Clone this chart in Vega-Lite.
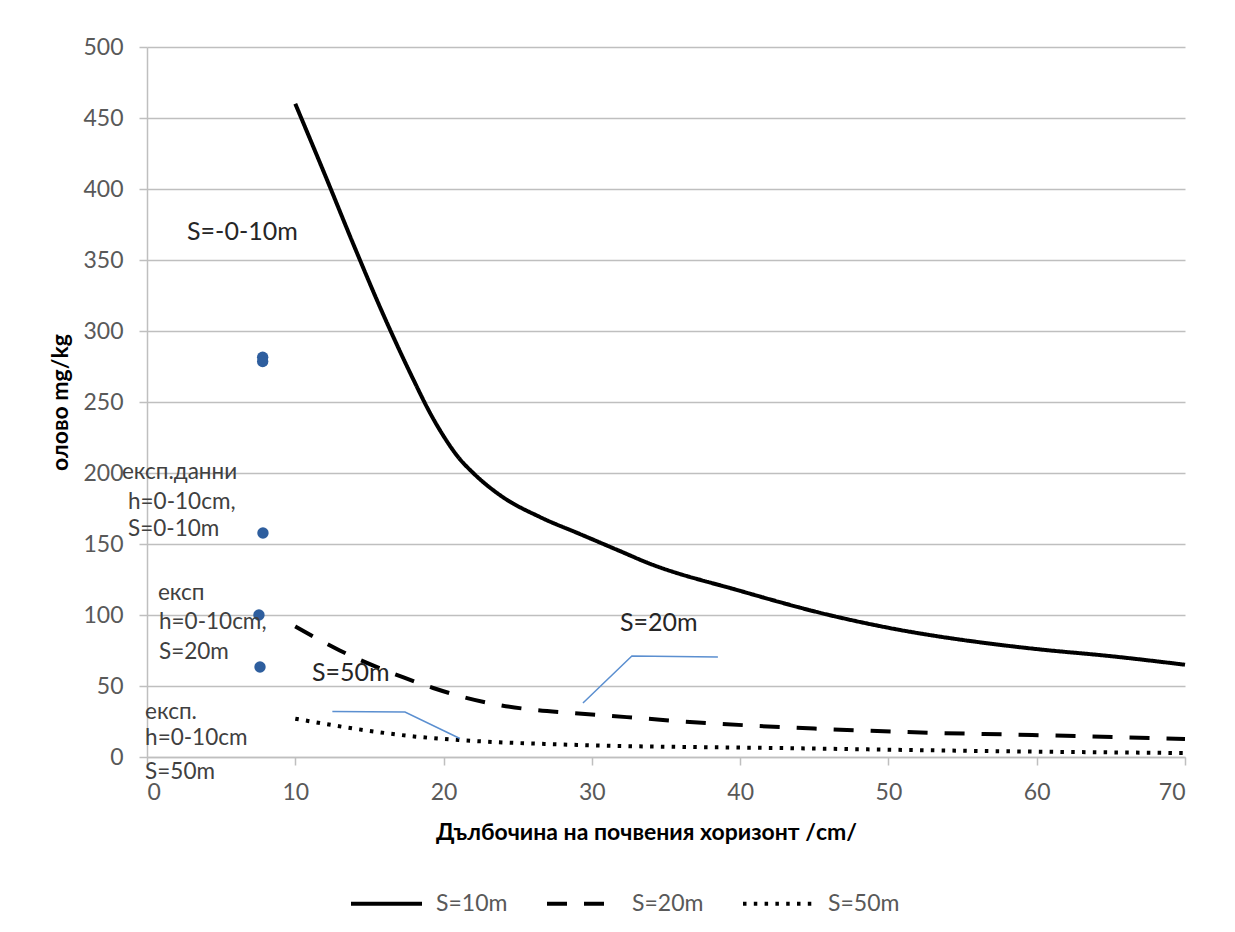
{
  "$schema": "https://vega.github.io/schema/vega-lite/v6.json",
  "width": 1038,
  "height": 710,
  "autosize": {"type": "none"},
  "padding": {"left": 147, "top": 47, "right": 50, "bottom": 175},
  "background": "white",
  "config": {
    "view": {"stroke": null},
    "font": "Lato",
    "axis": {"labelFont": "Lato", "titleFont": "Lato"},
    "legend": {"labelFont": "Lato"}
  },
  "datasets": {
    "curves": [
      {"series": "S=10m", "depth": 10, "lead": 460},
      {"series": "S=10m", "depth": 12, "lead": 410},
      {"series": "S=10m", "depth": 14, "lead": 359},
      {"series": "S=10m", "depth": 16, "lead": 310},
      {"series": "S=10m", "depth": 17, "lead": 287},
      {"series": "S=10m", "depth": 18, "lead": 265},
      {"series": "S=10m", "depth": 19, "lead": 244},
      {"series": "S=10m", "depth": 20, "lead": 226},
      {"series": "S=10m", "depth": 21, "lead": 211},
      {"series": "S=10m", "depth": 22, "lead": 200},
      {"series": "S=10m", "depth": 24, "lead": 183},
      {"series": "S=10m", "depth": 26.5, "lead": 169},
      {"series": "S=10m", "depth": 29.2, "lead": 157},
      {"series": "S=10m", "depth": 31.9, "lead": 145},
      {"series": "S=10m", "depth": 33.7, "lead": 137},
      {"series": "S=10m", "depth": 40, "lead": 117},
      {"series": "S=10m", "depth": 46, "lead": 100},
      {"series": "S=10m", "depth": 50, "lead": 91},
      {"series": "S=10m", "depth": 57.5, "lead": 79},
      {"series": "S=10m", "depth": 60, "lead": 76},
      {"series": "S=10m", "depth": 65, "lead": 71},
      {"series": "S=10m", "depth": 70, "lead": 65},
      {"series": "S=20m", "depth": 10, "lead": 92},
      {"series": "S=20m", "depth": 13, "lead": 75},
      {"series": "S=20m", "depth": 17.3, "lead": 56},
      {"series": "S=20m", "depth": 19.3, "lead": 48.6},
      {"series": "S=20m", "depth": 21.6, "lead": 41.5},
      {"series": "S=20m", "depth": 23.8, "lead": 36.5},
      {"series": "S=20m", "depth": 26.3, "lead": 33},
      {"series": "S=20m", "depth": 28.7, "lead": 31},
      {"series": "S=20m", "depth": 31.2, "lead": 29},
      {"series": "S=20m", "depth": 33.7, "lead": 27},
      {"series": "S=20m", "depth": 36.1, "lead": 25},
      {"series": "S=20m", "depth": 38.4, "lead": 23.5},
      {"series": "S=20m", "depth": 45, "lead": 20},
      {"series": "S=20m", "depth": 53, "lead": 17},
      {"series": "S=20m", "depth": 59.7, "lead": 15.5},
      {"series": "S=20m", "depth": 70, "lead": 12.7},
      {"series": "S=50m", "depth": 10, "lead": 27},
      {"series": "S=50m", "depth": 14.6, "lead": 19},
      {"series": "S=50m", "depth": 18, "lead": 14.5},
      {"series": "S=50m", "depth": 21, "lead": 12},
      {"series": "S=50m", "depth": 29, "lead": 8.5},
      {"series": "S=50m", "depth": 42.7, "lead": 6.3},
      {"series": "S=50m", "depth": 59.7, "lead": 3.8},
      {"series": "S=50m", "depth": 70, "lead": 2.8}
    ],
    "points": [
      {"depth": 7.8, "lead": 281.5},
      {"depth": 7.8, "lead": 278.5},
      {"depth": 7.82, "lead": 157.7},
      {"depth": 7.55, "lead": 100},
      {"depth": 7.62, "lead": 63.4}
    ],
    "leaders": [
      {"id": "a", "depth": 12.5, "lead": 32},
      {"id": "a", "depth": 17.4, "lead": 31.7},
      {"id": "a", "depth": 21.1, "lead": 13},
      {"id": "b", "depth": 29.4, "lead": 38},
      {"id": "b", "depth": 32.7, "lead": 71.1},
      {"id": "b", "depth": 38.5, "lead": 70.4}
    ],
    "bigLabels": [
      {"depth": 2.7, "lead": 369.7, "label": "S=-0-10m"},
      {"depth": 31.9, "lead": 94.4, "label": "S=20m"},
      {"depth": 11.13, "lead": 59.2, "label": "S=50m"}
    ],
    "smallLabels": [
      {"depth": -1.69, "lead": 200.7, "label": "експ.данни"},
      {"depth": -1.28, "lead": 179.6, "label": "h=0-10cm,"},
      {"depth": -1.28, "lead": 160.6, "label": "S=0-10m"},
      {"depth": 0.74, "lead": 115.5, "label": "експ"},
      {"depth": 0.81, "lead": 95.1, "label": "h=0-10cm,"},
      {"depth": 0.81, "lead": 73.9, "label": "S=20m"},
      {"depth": -0.13, "lead": 31.7, "label": "експ."},
      {"depth": -0.13, "lead": 13.4, "label": "h=0-10cm"},
      {"depth": -0.13, "lead": -10.6, "label": "S=50m"}
    ]
  },
  "layer": [
    {
      "data": {"name": "curves"},
      "mark": {"type": "line", "interpolate": "monotone", "strokeWidth": 4, "color": "black", "clip": false},
      "encoding": {
        "x": {
          "field": "depth", "type": "quantitative",
          "scale": {"domain": [0, 70], "nice": false},
          "axis": {
            "title": "Дълбочина на почвения хоризонт  /cm/",
            "values": [0, 10, 20, 30, 40, 50, 60, 70],
            "grid": false,
            "domainColor": "#BFBFBF", "domainWidth": 1.5,
            "tickColor": "#BFBFBF", "tickSize": 8, "tickWidth": 1.5,
            "labelFontSize": 23, "labelColor": "#595959", "labelPadding": 16,
            "titleFontSize": 23, "titleFontWeight": "bold", "titleColor": "#000000",
            "titlePadding": 17, "titleX": 499
          }
        },
        "y": {
          "field": "lead", "type": "quantitative",
          "scale": {"domain": [0, 500], "nice": false},
          "axis": {
            "title": "олово mg/kg",
            "values": [0, 50, 100, 150, 200, 250, 300, 350, 400, 450, 500],
            "grid": true, "gridColor": "#BFBFBF", "gridWidth": 1.5,
            "domainColor": "#BFBFBF", "domainWidth": 1.5,
            "tickColor": "#BFBFBF", "tickSize": 8, "tickWidth": 1.5,
            "labelFontSize": 23, "labelColor": "#595959", "labelPadding": 16,
            "titleFontSize": 23, "titleFontWeight": "bold", "titleColor": "#000000",
            "titlePadding": 10
          }
        },
        "strokeDash": {
          "field": "series", "type": "nominal",
          "scale": {"domain": ["S=10m", "S=20m", "S=50m"], "range": [[1, 0], [20, 17], [3.5, 7.3]]},
          "legend": {
            "title": null,
            "orient": "none",
            "direction": "horizontal",
            "legendX": 202,
            "legendY": 819,
            "symbolType": "stroke",
            "symbolSize": 5041,
            "symbolStrokeWidth": 4,
            "symbolStrokeColor": "black",
            "labelFontSize": 23,
            "labelColor": "#595959",
            "labelOffset": 12,
            "columnPadding": 31
          }
        }
      }
    },
    {
      "data": {"name": "leaders"},
      "mark": {"type": "line", "color": "#5B8FD0", "strokeWidth": 1.5},
      "encoding": {
        "x": {"field": "depth", "type": "quantitative"},
        "y": {"field": "lead", "type": "quantitative"},
        "detail": {"field": "id"}
      }
    },
    {
      "data": {"name": "points"},
      "mark": {"type": "point", "filled": true, "shape": "circle", "size": 130, "color": "#2E5E9E", "opacity": 1},
      "encoding": {
        "x": {"field": "depth", "type": "quantitative"},
        "y": {"field": "lead", "type": "quantitative"}
      }
    },
    {
      "data": {"name": "bigLabels"},
      "mark": {"type": "text", "align": "left", "baseline": "middle", "fontSize": 25, "color": "#262626", "clip": false},
      "encoding": {
        "x": {"field": "depth", "type": "quantitative"},
        "y": {"field": "lead", "type": "quantitative"},
        "text": {"field": "label"}
      }
    },
    {
      "data": {"name": "smallLabels"},
      "mark": {"type": "text", "align": "left", "baseline": "middle", "fontSize": 22.5, "color": "#404040", "clip": false},
      "encoding": {
        "x": {"field": "depth", "type": "quantitative"},
        "y": {"field": "lead", "type": "quantitative"},
        "text": {"field": "label"}
      }
    }
  ]
}
